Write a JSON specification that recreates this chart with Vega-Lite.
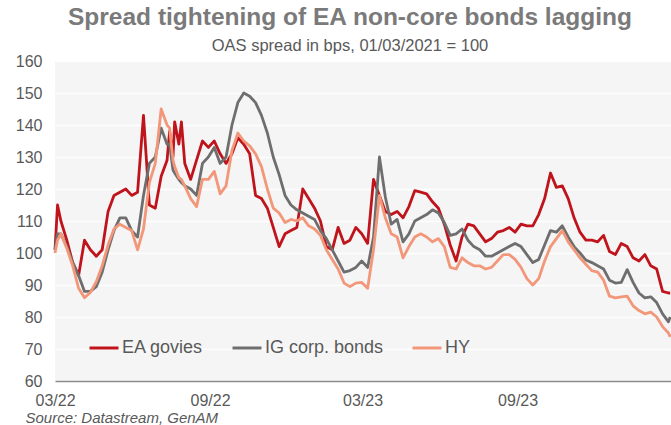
{
  "$schema": "https://vega.github.io/schema/vega-lite/v6.json",
  "width": 616,
  "height": 320,
  "autosize": {"type": "none"},
  "padding": {"left": 55, "top": 61, "right": 0, "bottom": 44},
  "background": "white",
  "title": {
    "text": "Spread tightening of EA non-core bonds lagging",
    "subtitle": "OAS spread in bps, 01/03/2021 = 100",
    "anchor": "middle",
    "dx": -13,
    "font": "Liberation Sans",
    "fontSize": 24.5,
    "fontWeight": "bold",
    "color": "#7a7a7a",
    "subtitleFont": "Liberation Sans",
    "subtitleFontSize": 16.5,
    "subtitleColor": "#595959",
    "subtitlePadding": 7,
    "offset": -2
  },
  "config": {
    "view": {"fill": "#f5f5f5", "stroke": null},
    "font": "Liberation Sans"
  },
  "data": {
    "values": [
      {"date": "2022-03-01", "EA": 101, "IG": 101, "HY": 100},
      {"date": "2022-03-04", "EA": 115, "IG": 106, "HY": 104},
      {"date": "2022-03-08", "EA": 110, "IG": 106, "HY": 106},
      {"date": "2022-03-15", "EA": 104, "IG": 102, "HY": 101.5},
      {"date": "2022-03-22", "EA": 97, "IG": 97, "HY": 96},
      {"date": "2022-03-29", "EA": 93, "IG": 93, "HY": 89},
      {"date": "2022-04-05", "EA": 104, "IG": 88, "HY": 86},
      {"date": "2022-04-12", "EA": 101, "IG": 88, "HY": 87.7},
      {"date": "2022-04-19", "EA": 99, "IG": 89.5, "HY": 91},
      {"date": "2022-04-26", "EA": 101, "IG": 94, "HY": 96},
      {"date": "2022-05-03", "EA": 113, "IG": 101, "HY": 102.5},
      {"date": "2022-05-10", "EA": 118, "IG": 107, "HY": 107.5},
      {"date": "2022-05-17", "EA": 119, "IG": 111, "HY": 109},
      {"date": "2022-05-24", "EA": 120, "IG": 111, "HY": 108},
      {"date": "2022-05-31", "EA": 118, "IG": 107, "HY": 107},
      {"date": "2022-06-07", "EA": 119, "IG": 105, "HY": 101},
      {"date": "2022-06-14", "EA": 143, "IG": 118, "HY": 107.5},
      {"date": "2022-06-21", "EA": 115, "IG": 128, "HY": 122},
      {"date": "2022-06-28", "EA": 114, "IG": 130, "HY": 128},
      {"date": "2022-07-05", "EA": 124, "IG": 139, "HY": 145},
      {"date": "2022-07-12", "EA": 129, "IG": 134, "HY": 140},
      {"date": "2022-07-15", "EA": 138, "IG": 134, "HY": 139},
      {"date": "2022-07-19", "EA": 130, "IG": 126, "HY": 129},
      {"date": "2022-07-21", "EA": 141, "IG": 125, "HY": 127},
      {"date": "2022-07-26", "EA": 134, "IG": 123, "HY": 123.5},
      {"date": "2022-07-29", "EA": 141, "IG": 122, "HY": 123},
      {"date": "2022-08-02", "EA": 128, "IG": 121, "HY": 121},
      {"date": "2022-08-09", "EA": 123, "IG": 120, "HY": 117},
      {"date": "2022-08-16", "EA": 129, "IG": 118, "HY": 114.5},
      {"date": "2022-08-23", "EA": 135, "IG": 128, "HY": 123},
      {"date": "2022-08-30", "EA": 133, "IG": 130, "HY": 123},
      {"date": "2022-09-06", "EA": 135, "IG": 133, "HY": 125.5},
      {"date": "2022-09-13", "EA": 131, "IG": 128, "HY": 118.5},
      {"date": "2022-09-20", "EA": 128, "IG": 130, "HY": 121},
      {"date": "2022-09-27", "EA": 131, "IG": 140, "HY": 132},
      {"date": "2022-10-04", "EA": 136, "IG": 147, "HY": 137.5},
      {"date": "2022-10-11", "EA": 134, "IG": 150, "HY": 135},
      {"date": "2022-10-18", "EA": 131, "IG": 149, "HY": 133.5},
      {"date": "2022-10-25", "EA": 118, "IG": 147, "HY": 131},
      {"date": "2022-11-01", "EA": 117, "IG": 143, "HY": 127},
      {"date": "2022-11-08", "EA": 114, "IG": 137.5, "HY": 120},
      {"date": "2022-11-15", "EA": 108, "IG": 130, "HY": 114},
      {"date": "2022-11-22", "EA": 102, "IG": 124.5, "HY": 112.5},
      {"date": "2022-11-29", "EA": 106, "IG": 118, "HY": 109.5},
      {"date": "2022-12-06", "EA": 107, "IG": 115, "HY": 110.5},
      {"date": "2022-12-13", "EA": 108, "IG": 113.5, "HY": 110},
      {"date": "2022-12-20", "EA": 120, "IG": 112.5, "HY": 111},
      {"date": "2022-12-27", "EA": 117, "IG": 111.5, "HY": 108.5},
      {"date": "2023-01-03", "EA": 114, "IG": 110.5, "HY": 107.5},
      {"date": "2023-01-10", "EA": 110, "IG": 107, "HY": 105.5},
      {"date": "2023-01-17", "EA": 102, "IG": 104.5, "HY": 101},
      {"date": "2023-01-24", "EA": 101, "IG": 101, "HY": 98},
      {"date": "2023-01-31", "EA": 108, "IG": 97.5, "HY": 95},
      {"date": "2023-02-07", "EA": 103, "IG": 94, "HY": 90.6},
      {"date": "2023-02-14", "EA": 104, "IG": 94.5, "HY": 89.5},
      {"date": "2023-02-21", "EA": 108, "IG": 95.5, "HY": 90.6},
      {"date": "2023-02-28", "EA": 106, "IG": 97.5, "HY": 90.8},
      {"date": "2023-03-07", "EA": 103, "IG": 95.5, "HY": 89},
      {"date": "2023-03-14", "EA": 123, "IG": 105, "HY": 101},
      {"date": "2023-03-21", "EA": 118, "IG": 130, "HY": 118},
      {"date": "2023-03-28", "EA": 113, "IG": 117.5, "HY": 111},
      {"date": "2023-04-04", "EA": 112, "IG": 109, "HY": 106},
      {"date": "2023-04-11", "EA": 113, "IG": 110.5, "HY": 105},
      {"date": "2023-04-18", "EA": 111, "IG": 103.5, "HY": 98.5},
      {"date": "2023-04-25", "EA": 114.5, "IG": 106, "HY": 102},
      {"date": "2023-05-02", "EA": 119.5, "IG": 110, "HY": 105},
      {"date": "2023-05-09", "EA": 119, "IG": 111, "HY": 106},
      {"date": "2023-05-16", "EA": 118.5, "IG": 112, "HY": 105},
      {"date": "2023-05-23", "EA": 116, "IG": 113.5, "HY": 103.5},
      {"date": "2023-05-30", "EA": 114, "IG": 112.5, "HY": 104.5},
      {"date": "2023-06-06", "EA": 109, "IG": 109.5, "HY": 102},
      {"date": "2023-06-13", "EA": 102.5, "IG": 105.5, "HY": 95.5},
      {"date": "2023-06-20", "EA": 97.5, "IG": 106, "HY": 95},
      {"date": "2023-06-27", "EA": 105, "IG": 107.5, "HY": 98.5},
      {"date": "2023-07-04", "EA": 109, "IG": 104, "HY": 97},
      {"date": "2023-07-11", "EA": 108.5, "IG": 102, "HY": 96},
      {"date": "2023-07-18", "EA": 106, "IG": 101, "HY": 96},
      {"date": "2023-07-25", "EA": 103.5, "IG": 99, "HY": 95},
      {"date": "2023-08-01", "EA": 104.5, "IG": 99, "HY": 95.5},
      {"date": "2023-08-08", "EA": 106.5, "IG": 100, "HY": 97.5},
      {"date": "2023-08-15", "EA": 107, "IG": 101, "HY": 99.5},
      {"date": "2023-08-22", "EA": 108, "IG": 102, "HY": 99.5},
      {"date": "2023-08-29", "EA": 106.5, "IG": 103, "HY": 98},
      {"date": "2023-09-05", "EA": 109, "IG": 102, "HY": 95.5},
      {"date": "2023-09-12", "EA": 108.5, "IG": 99.5, "HY": 92},
      {"date": "2023-09-19", "EA": 108.5, "IG": 97, "HY": 90},
      {"date": "2023-09-26", "EA": 112, "IG": 98, "HY": 92},
      {"date": "2023-10-03", "EA": 117, "IG": 102.5, "HY": 97.5},
      {"date": "2023-10-10", "EA": 125, "IG": 107, "HY": 102},
      {"date": "2023-10-17", "EA": 120.5, "IG": 106.5, "HY": 104.5},
      {"date": "2023-10-24", "EA": 121, "IG": 108.5, "HY": 107},
      {"date": "2023-10-31", "EA": 117, "IG": 105, "HY": 103.5},
      {"date": "2023-11-07", "EA": 111, "IG": 102, "HY": 101},
      {"date": "2023-11-14", "EA": 106.5, "IG": 100, "HY": 98.5},
      {"date": "2023-11-21", "EA": 104, "IG": 97.8, "HY": 96.5},
      {"date": "2023-11-28", "EA": 104, "IG": 97, "HY": 94.5},
      {"date": "2023-12-05", "EA": 103.5, "IG": 96, "HY": 94},
      {"date": "2023-12-12", "EA": 105.5, "IG": 95, "HY": 91.5},
      {"date": "2023-12-19", "EA": 100.5, "IG": 91.5, "HY": 86.5},
      {"date": "2023-12-26", "EA": 99.5, "IG": 90.6, "HY": 86},
      {"date": "2024-01-02", "EA": 103, "IG": 90.8, "HY": 86.3},
      {"date": "2024-01-09", "EA": 102, "IG": 94.8, "HY": 86.5},
      {"date": "2024-01-16", "EA": 98.5, "IG": 90.8, "HY": 83.5},
      {"date": "2024-01-23", "EA": 97.5, "IG": 87.5, "HY": 82},
      {"date": "2024-01-30", "EA": 99.5, "IG": 86, "HY": 81},
      {"date": "2024-02-06", "EA": 96, "IG": 86.3, "HY": 81.5},
      {"date": "2024-02-13", "EA": 95, "IG": 84.5, "HY": 80},
      {"date": "2024-02-20", "EA": 88, "IG": 81, "HY": 77},
      {"date": "2024-02-27", "EA": 87.5, "IG": 78.5, "HY": 75},
      {"date": "2024-02-29", "EA": 87.5, "IG": 80, "HY": 73.8}
    ]
  },
  "transform": [{"fold": ["EA", "IG", "HY"], "as": ["series", "value"]}],
  "mark": {"type": "line", "strokeWidth": 2.8, "strokeJoin": "round"},
  "encoding": {
    "x": {
      "field": "date",
      "type": "temporal",
      "scale": {"type": "utc", "domain": [{"year": 2022, "month": 3, "date": 1, "utc": true}, {"year": 2024, "month": 3, "date": 1, "utc": true}]},
      "axis": {
        "values": [
          {"year": 2022, "month": 3, "date": 1, "utc": true},
          {"year": 2022, "month": 9, "date": 1, "utc": true},
          {"year": 2023, "month": 3, "date": 1, "utc": true},
          {"year": 2023, "month": 9, "date": 1, "utc": true}
        ],
        "labelExpr": "utcFormat(datum.value, '%m/%y')",
        "labelFontSize": 16,
        "labelColor": "#595959",
        "labelFlush": false,
        "labelPadding": 11,
        "ticks": false,
        "tickSize": 0,
        "grid": false,
        "domainColor": "#8c8c8c",
        "domainWidth": 1.5,
        "title": "Source: Datastream, GenAM",
        "titleFontStyle": "italic",
        "titleFontWeight": "normal",
        "titleFontSize": 15,
        "titleColor": "#595959",
        "titleAnchor": "start",
        "titleAlign": "left",
        "titleBaseline": "alphabetic",
        "titleX": -30,
        "titleY": 41
      }
    },
    "y": {
      "field": "value",
      "type": "quantitative",
      "scale": {"domain": [60, 160], "nice": false, "zero": false},
      "axis": {
        "values": [60, 70, 80, 90, 100, 110, 120, 130, 140, 150, 160],
        "labelFontSize": 16,
        "labelColor": "#595959",
        "labelPadding": 13,
        "ticks": false,
        "tickSize": 0,
        "domain": false,
        "grid": true,
        "gridColor": "#ffffff",
        "gridWidth": 1.5,
        "title": null
      }
    },
    "color": {
      "field": "series",
      "type": "nominal",
      "scale": {"domain": ["EA", "IG", "HY"], "range": ["#c0141c", "#6e6e6e", "#f2977a"]},
      "legend": {
        "orient": "none",
        "legendX": 33,
        "legendY": 271,
        "direction": "horizontal",
        "title": null,
        "symbolType": "stroke",
        "symbolSize": 841,
        "symbolStrokeWidth": 3,
        "labelFontSize": 18,
        "labelColor": "#595959",
        "labelOffset": 2,
        "columnPadding": 22,
        "padding": 0,
        "labelLimit": 200,
        "labelExpr": "datum.label == 'EA' ? 'EA govies' : datum.label == 'IG' ? 'IG corp. bonds' : 'HY'"
      }
    }
  }
}
